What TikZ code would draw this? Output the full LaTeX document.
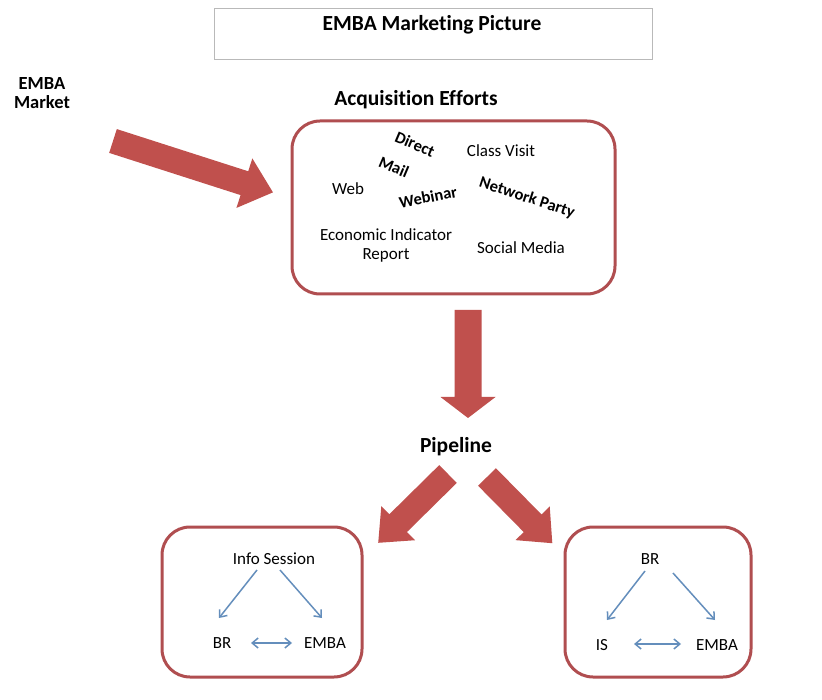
\documentclass[tikz,border=0pt]{standalone}
\usepackage{fontspec}
\setmainfont{Carlito}[Ligatures=NoCommon]
\usetikzlibrary{arrows.meta}
\definecolor{arrowred}{RGB}{192,80,77}
\definecolor{boxred}{RGB}{176,78,80}
\definecolor{linkblue}{RGB}{100,142,188}
\newcommand\fatarrow[7]{%
  \fill[arrowred,shift={(#1,#2)},rotate=#3] (0,{-#5/2}) -- ({#4-#7},{-#5/2}) -- ({#4-#7},{-#6/2}) -- (#4,0) -- ({#4-#7},{#6/2}) -- ({#4-#7},{#5/2}) -- (0,{#5/2}) -- cycle;}
\begin{document}
\begin{tikzpicture}[x=1pt,y=-1pt,
  body/.style={font=\fontsize{17}{19}\selectfont, inner sep=0pt},
  head/.style={font=\fontsize{21.5}{25}\selectfont\bfseries, inner sep=0pt},
  wordart/.style={font=\fontsize{16.5}{19}\selectfont\bfseries, inner sep=0pt},
  panel/.style={draw=boxred, line width=3pt, rounded corners=28pt, inner sep=0pt},
  link/.style={draw=linkblue, line width=1.5pt, -{Straight Barb[length=6pt,width=10pt]}},
  twolink/.style={draw=linkblue, line width=1.5pt, {Straight Barb[length=6pt,width=10pt]}-{Straight Barb[length=6pt,width=10pt]}}
]
\useasboundingbox (0,0) rectangle (822,700);
\fill[white] (0,0) rectangle (822,700);

% title
\node[draw=gray!55, line width=0.8pt, minimum width=438pt, minimum height=51pt, inner sep=0pt] (titlebox) at (433,33.5) {};
\node[head] (title) at (432,25) {EMBA Marketing Picture};

% market label
\node[font=\fontsize{18.5}{19}\selectfont\bfseries, inner sep=0pt, align=center] (market) at (42,93) {EMBA\\Market};

% acquisition
\node[head] (acqtitle) at (416,100) {Acquisition Efforts};
\node[panel, minimum width=323pt, minimum height=173pt] (acq) at (453.5,207.5) {};
\node[wordart, rotate=-23] (direct) at (415,144) {Direct};
\node[wordart, rotate=-23] (mail) at (394,167) {Mail};
\node[body] (classvisit) at (501,151) {Class Visit};
\node[body] (web) at (348,189) {Web};
\node[wordart, rotate=11] (webinar) at (428,197) {Webinar};
\node[wordart, rotate=-18] (network) at (527,198) {Network Party};
\node[body, align=center] (econ) at (386,245) {Economic Indicator\\Report};
\node[body] (social) at (521,248) {Social Media};

% big arrows
\fatarrow{113}{141}{-17.8}{168}{25}{52}{30}
\fatarrow{468}{310}{-90}{108}{27}{55}{21}
\node[head] (pipeline) at (456,447) {Pipeline};
\fatarrow{448}{474}{-135.4}{98}{25}{48}{28}
\fatarrow{487}{477}{-45.4}{93}{25}{48}{28}

% left panel
\node[panel, minimum width=200pt, minimum height=150pt] (leftbox) at (262,602) {};
\node[body] (info) at (274,559) {Info Session};
\node[body] (lbr) at (222,643) {BR};
\node[body] (lemba) at (325,643) {EMBA};
\coordinate (l1s) at (257,570); \coordinate (l1e) at (219,618);
\coordinate (l2s) at (280,570); \coordinate (l2e) at (322,618);
\coordinate (l3s) at (251,643); \coordinate (l3e) at (292,643);
\draw[link] (l1s) -- (l1e);
\draw[link] (l2s) -- (l2e);
\draw[twolink] (l3s) -- (l3e);

% right panel
\node[panel, minimum width=186pt, minimum height=150pt] (rightbox) at (658,602) {};
\node[body] (rbr) at (650,559) {BR};
\node[body] (ris) at (602,645) {IS};
\node[body] (remba) at (717,645) {EMBA};
\coordinate (r1s) at (645,571); \coordinate (r1e) at (607,620);
\coordinate (r2s) at (673,573); \coordinate (r2e) at (715,620);
\coordinate (r3s) at (634,644); \coordinate (r3e) at (681,644);
\draw[link] (r1s) -- (r1e);
\draw[link] (r2s) -- (r2e);
\draw[twolink] (r3s) -- (r3e);
\end{tikzpicture}
\end{document}
